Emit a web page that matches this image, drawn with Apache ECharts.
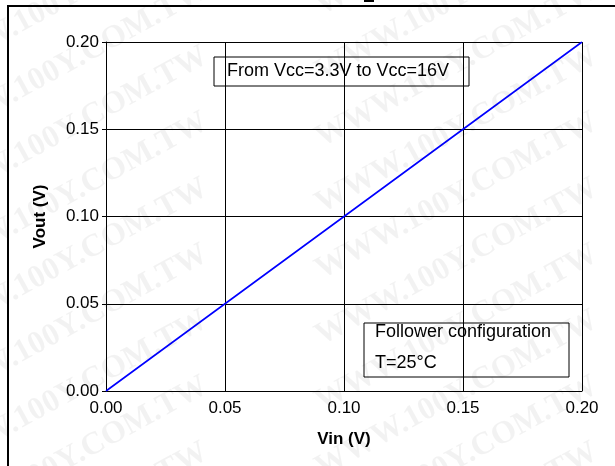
<!DOCTYPE html>
<html><head><meta charset="utf-8">
<script src="https://cdn.jsdelivr.net/npm/echarts@6/dist/echarts.min.js"></script>
<style>html,body{margin:0;padding:0;background:#fff}#c{width:615px;height:466px}</style>
</head><body><div id="c"></div>
<script>
const vin = [0, 0.05, 0.10, 0.15, 0.20];
const vout = [0, 0.05, 0.10, 0.15, 0.20];
const xTicks = ['0.00','0.05','0.10','0.15','0.20'];
const yTicks = ['0.00','0.05','0.10','0.15','0.20'];
const note1 = 'From Vcc=3.3V to Vcc=16V';
const note2 = ['Follower configuration', 'T=25°C'];
const wmText = 'WWW.100Y.COM.TW';

const chart = echarts.init(document.getElementById('c'), null, {renderer:'canvas'});
const font = 'Liberation Sans, Arial, sans-serif';

const wm = [];
for (let col = 0; col < 3; col++) {
  for (let row = -3; row < 10; row++) {
    wm.push({type:'text', x: -80 + col*390, y: 60 + row*66, rotation: 0.5, z: 100, silent:true,
      style:{text: wmText, font:'bold 32px Liberation Serif, serif', fill:'rgba(0,0,0,0.05)'}});
  }
}

chart.setOption({
  animation:false,
  backgroundColor:'#fff',
  grid:{left:106, top:42, right:33, bottom:75},
  xAxis:{type:'value', min:0, max:0.2, interval:0.05,
    name:'Vin (V)', nameLocation:'middle', nameGap:40,
    nameTextStyle:{fontFamily:font, fontSize:17, fontWeight:'bold', color:'#000'},
    axisLine:{show:true, lineStyle:{color:'#000', width:1}},
    axisTick:{show:true, inside:true, length:5, lineStyle:{color:'#000'}},
    splitLine:{show:true, lineStyle:{color:'#000', width:1}},
    axisLabel:{fontFamily:font, fontSize:17, color:'#000', margin:9, formatter:(v)=>xTicks[Math.round(v/0.05)]}
  },
  yAxis:{type:'value', min:0, max:0.2, interval:0.05,
    name:'Vout (V)', nameLocation:'middle', nameGap:57, nameRotate:90,
    nameTextStyle:{fontFamily:font, fontSize:17, fontWeight:'bold', color:'#000'},
    axisLine:{show:true, lineStyle:{color:'#000', width:1}},
    axisTick:{show:true, inside:false, length:4, lineStyle:{color:'#000'}},
    splitLine:{show:true, lineStyle:{color:'#000', width:1}},
    axisLabel:{fontFamily:font, fontSize:17, color:'#000', margin:7, formatter:(v)=>yTicks[Math.round(v/0.05)]}
  },
  series:[{type:'line', data: vin.map((x,i)=>[x, vout[i]]), showSymbol:false, symbol:'none',
    lineStyle:{color:'#0000ff', width:1.6}, z:5}],
  graphic: wm.concat([
    {type:'line', shape:{x1:8, y1:5, x2:8, y2:466}, style:{stroke:'#000', lineWidth:2}, z:20},
    {type:'line', shape:{x1:7, y1:6, x2:615, y2:6}, style:{stroke:'#000', lineWidth:2}, z:20},
    {type:'rect', shape:{x:364, y:0, width:10, height:2}, style:{fill:'#000'}, z:20},
    {type:'group', x:214, y:57, z:30, children:[
      {type:'rect', shape:{x:0, y:0, width:255, height:29}, style:{fill:'#fff', stroke:'#000', lineWidth:1}},
      {type:'text', x:13, y:5, style:{text:note1, font:'18px '+font, fill:'#000'}}
    ]},
    {type:'group', x:364, y:323, z:30, children:[
      {type:'rect', shape:{x:0, y:0, width:205, height:54}, style:{fill:'#fff', stroke:'#000', lineWidth:1}},
      {type:'text', x:11, y:-6, style:{text:note2.join('\n'), font:'18px '+font, fill:'#000', lineHeight:31}}
    ]}
  ])
});
</script></body></html>
